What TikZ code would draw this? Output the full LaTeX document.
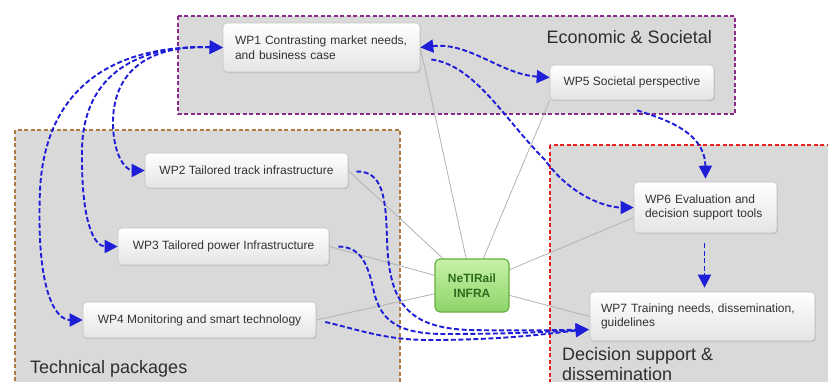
\documentclass[tikz,border=0pt]{standalone}
\usepackage{fontspec}
\setmainfont{Liberation Sans}
\usetikzlibrary{arrows.meta,calc,backgrounds,shadows}
\definecolor{grpfill}{HTML}{D9D9D9}
\definecolor{boxline}{HTML}{C4C4C4}
\definecolor{boxbot}{HTML}{E4E4E4}
\definecolor{txtgray}{HTML}{333333}
\definecolor{labelgray}{HTML}{2E2E2E}
\definecolor{linkgray}{HTML}{B2B2B2}
\definecolor{flowblue}{HTML}{1E1ED8}
\definecolor{econline}{HTML}{8A2A8A}
\definecolor{techline}{HTML}{B07A40}
\definecolor{decline}{HTML}{E82020}
\definecolor{hubtop}{HTML}{C8F2A8}
\definecolor{hubbot}{HTML}{8CD468}
\definecolor{hubline}{HTML}{66B040}
\definecolor{hubtext}{HTML}{2E6A1E}
\begin{document}
\begin{tikzpicture}[x=1pt,y=-1pt,
  wpbox/.style={draw=boxline, line width=0.6pt, rounded corners=4pt, top color=white, bottom color=boxbot,
    drop shadow={shadow xshift=0.8pt, shadow yshift=-1.2pt, opacity=0.25},
    inner sep=0pt, font=\fontsize{12}{14.5}\selectfont, text=txtgray},
  hubbox/.style={draw=hubline, line width=1.2pt, rounded corners=5pt, top color=hubtop, bottom color=hubbot,
    inner sep=0pt, align=center, font=\fontsize{12}{15}\selectfont\bfseries, text=hubtext},
  grp/.style={fill=grpfill, line width=1.4pt, dash pattern=on 4pt off 2.5pt},
  link/.style={draw=linkgray, line width=0.8pt},
  flow/.style={draw=flowblue, line width=1.9pt, dash pattern=on 5pt off 2.5pt,
    -{Triangle[length=13pt,width=13pt]}},
  biflow/.style={flow, {Triangle[length=13pt,width=13pt]}-{Triangle[length=13pt,width=13pt]}},
  grplabel/.style={font=\fontsize{18}{20}\selectfont, text=labelgray, inner sep=0pt}]
\useasboundingbox (0,0) rectangle (828,381);

% nodes
\node[wpbox, minimum width=197pt, minimum height=49pt, text width=173pt, align=left] (wp1) at (321.5,47.5)
  {WP1 Contrasting market needs,\\and business case};
\node[wpbox, minimum width=164pt, minimum height=35pt] (wp5) at (632,82.5) {WP5 Societal perspective};
\node[wpbox, minimum width=203pt, minimum height=35pt] (wp2) at (246.5,170.5) {WP2 Tailored track infrastructure};
\node[wpbox, minimum width=211pt, minimum height=37pt] (wp3) at (223.5,246.5) {WP3 Tailored power Infrastructure};
\node[wpbox, minimum width=233pt, minimum height=36pt] (wp4) at (199.5,320) {WP4 Monitoring and smart technology};
\node[wpbox, minimum width=143pt, minimum height=51pt, text width=121pt, align=left] (wp6) at (705.5,207.5)
  {WP6 Evaluation and\\decision support tools};
\node[wpbox, minimum width=225pt, minimum height=49pt, text width=203pt, align=left] (wp7) at (702.5,316.5)
  {WP7 Training needs, dissemination,\\guidelines};
\node[hubbox, minimum width=74pt, minimum height=53pt] (hub) at (472,285.5) {NeTIRail\\INFRA};

% groups and links behind
\begin{scope}[on background layer]
  \clip (0,0) rectangle (828,381);
  \fill[white] (0,0) rectangle (828,381);
  \draw[grp, draw=econline] (178,16) rectangle (735,114);
  \draw[grp, draw=techline] (15,130) rectangle (400,395);
  \draw[grp, draw=decline] (550,145) rectangle (840,395);
  \draw[link] (hub.center) -- (wp1.east);
  \draw[link] (hub.center) -- (wp5.south west);
  \draw[link] (hub.center) -- (wp2.east);
  \draw[link] (hub.center) -- (wp3.east);
  \draw[link] (hub.center) -- (wp4.east);
  \draw[link] (hub.center) -- ($(wp6.west)+(0,10)$);
  \draw[link] (hub.center) -- (wp7.west);
\end{scope}

% group labels
\node[grplabel, anchor=base east] (lecon) at (712,43) {Economic \& Societal};
\node[grplabel, anchor=base west] (ltech) at (30,373) {Technical packages};
\node[grplabel, anchor=north west, align=left] (ldec) at (562,347) {Decision support \&\\dissemination};

% blue flows
\draw[biflow] (wp1.west) .. controls (150,45) and (112,70) .. (113,125) .. controls (114,160) and (128,170.5) .. (wp2.west);
\draw[biflow] (wp1.west) .. controls (130,45) and (83,80) .. (82,150) .. controls (81,225) and (95,246.5) .. (wp3.west);
\draw[biflow] (wp1.west) .. controls (110,45) and (45,90) .. (40,190) .. controls (36,290) and (55,320) .. (wp4.west);
\draw[biflow] (wp1.east) .. controls (470,42) and (500,74) .. ($(wp5.west)+(0,-5)$);
\draw[flow] ($(wp1.east)+(11,12)$) .. controls (475,65) and (505,120) .. (545,160) .. controls (570,195) and (605,207.5) .. (wp6.west);
\draw[flow] ($(wp5.south)+(5,10)$) .. controls (660,118) and (705,130) .. ($(wp6.north)+(0,-3)$);
\draw[flow] ($(wp6.south)+(-1,10)$) -- ($(wp6.south |- wp7.north)+(-1,-4)$);
\draw[flow] ($(wp2.east)+(8,1)$) .. controls (382,171) and (386,195) .. (387,240) .. controls (389,300) and (405,328) .. (470,330) .. controls (520,331) and (560,330) .. ($(wp7.west)+(-1,13)$);
\draw[flow] ($(wp3.east)+(9,0)$) .. controls (362,247) and (368,265) .. (374,292) .. controls (381,322) and (400,334) .. (445,334) .. controls (520,334) and (560,331) .. ($(wp7.west)+(-1,13)$);
\draw[flow] ($(wp4.east)+(9,2)$) .. controls (360,330) and (385,340) .. (430,340) .. controls (510,340) and (560,332) .. ($(wp7.west)+(-1,13)$);
\end{tikzpicture}
\end{document}
